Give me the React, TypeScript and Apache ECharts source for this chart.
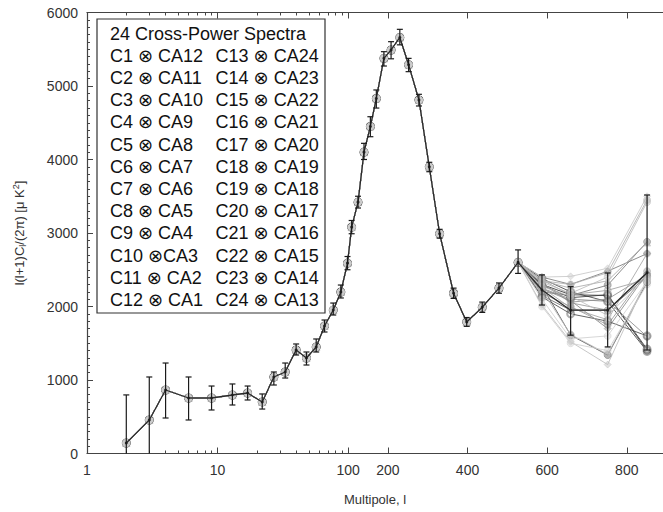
import React, { useEffect, useRef } from "react";
import * as echarts from "echarts";

// Multipole bins (l) and the combined spectrum with its error bars
const multipoles = [2, 3, 4, 6, 9, 13, 17, 22, 27, 33, 40, 48, 57, 66, 77, 88, 99, 109, 125, 140, 156, 171, 190, 208, 230, 252, 278, 304, 330, 365, 398, 437, 479, 527, 587, 659, 752, 851];
const mainSpectrum = [143, 456, 864, 755, 755, 796, 823, 701, 1041, 1109, 1408, 1299, 1449, 1735, 1952, 2197, 2590, 3080, 3420, 4100, 4450, 4830, 5376, 5490, 5660, 5290, 4810, 3900, 2990, 2180, 1790, 1990, 2250, 2600, 2225, 1950, 1950, 2460];
const errLow = [0, 0, 483, 456, 592, 660, 728, 605, 932, 1027, 1340, 1204, 1381, 1653, 1884, 2116, 2500, 2990, 3340, 4000, 4310, 4700, 5272, 5370, 5560, 5195, 4728, 3834, 2930, 2110, 1730, 1920, 2180, 2450, 2020, 1610, 1450, 1408];
const errHigh = [797, 1041, 1231, 1041, 918, 946, 918, 810, 1109, 1231, 1490, 1381, 1558, 1816, 2047, 2292, 2680, 3170, 3500, 4220, 4582, 4946, 5467, 5603, 5771, 5376, 4887, 3962, 3050, 2250, 1850, 2060, 2320, 2770, 2430, 2270, 2456, 3517];

// Individual cross-power spectra differ only in the last four bins (l = 587, 659, 752, 851)
// (listed from darkest to lightest drawing tone)
const tailStart = 34;
const crossTails = [
  [2300, 2160, 2150, 1400],
  [2280, 1610, 1340, 2330],
  [2380, 2200, 2066, 1390],
  [2290, 2120, 2160, 1420],
  [2130, 1900, 1800, 1600],
  [2150, 1950, 1950, 2410],
  [2200, 2150, 2290, 2880],
  [2400, 2300, 2480, 2720],
  [2240, 2080, 1700, 2450],
  [2250, 2100, 2070, 1590],
  [2310, 2060, 2100, 2430],
  [2180, 2000, 1750, 2480],
  [2320, 2050, 1950, 2470],
  [2360, 2160, 2220, 2370],
  [2260, 1980, 1820, 2720],
  [2350, 2250, 2350, 2870],
  [2350, 2300, 2460, 3450],
  [2220, 1620, 1350, 2350],
  [2330, 2180, 2400, 3420],
  [2020, 1520, 1210, 2380],
  [2270, 2140, 1880, 2400],
  [2400, 2410, 2520, 3500],
  [2000, 1500, 1400, 2300],
  [2100, 1560, 1600, 2340],
];
const seriesColors = ['#333333', '#555555', '#444444', '#3a3a3a', '#4a4a4a', '#6a6a6a', '#777777', '#7a7a7a', '#888888', '#8a8a8a', '#8f8f8f', '#999999', '#9a9a9a', '#a0a0a0', '#a5a5a5', '#aaaaaa', '#b0b0b0', '#b5b5b5', '#bcbcbc', '#bdbdbd', '#c0c0c0', '#c8c8c8', '#cfcfcf', '#d0d0d0'];
const seriesSymbols = ['circle', 'circle', 'emptyCircle', 'emptyCircle', 'emptyCircle', 'circle', 'circle', 'diamond', 'diamond', 'circle', 'circle', 'circle', 'triangle', 'circle', 'circle', 'triangle', 'circle', 'circle', 'circle', 'diamond', 'circle', 'diamond', 'circle', 'circle'];

const xTickValues = [1, 10, 100, 200, 400, 600, 800];
const xMinorTickValues = [2, 3, 4, 5, 6, 7, 8, 9, 20, 30, 40, 50, 60, 70, 80, 90];
const xMaxL = 891;

const legendTitle = "24 Cross-Power Spectra";
const legendCol1 = ["C1 ⊗ CA12", "C2 ⊗ CA11", "C3 ⊗ CA10", "C4 ⊗ CA9", "C5 ⊗ CA8", "C6 ⊗ CA7", "C7 ⊗ CA6", "C8 ⊗ CA5", "C9 ⊗ CA4", "C10 ⊗CA3", "C11 ⊗ CA2", "C12 ⊗ CA1"];
const legendCol2 = ["C13 ⊗ CA24", "C14 ⊗ CA23", "C15 ⊗ CA22", "C16 ⊗ CA21", "C17 ⊗ CA20", "C18 ⊗ CA19", "C19 ⊗ CA18", "C20 ⊗ CA17", "C21 ⊗ CA16", "C22 ⊗ CA15", "C23 ⊗ CA14", "C24 ⊗ CA13"];

// Axis is logarithmic below l = 100 and linear above it
const LIN_K = 0.00305;
function toAxis(l: number): number {
  return l <= 100 ? Math.log10(l) : 2 + (l - 100) * LIN_K;
}

const FONT = "'Liberation Sans', 'DejaVu Sans', Arial, sans-serif";

export default function App() {
  const ref = useRef<HTMLDivElement>(null);

  useEffect(() => {
    document.body.style.margin = "0";
    if (!ref.current) return;
    const chart = echarts.init(ref.current, undefined, { renderer: "svg" });

    const majorT = xTickValues.map(toAxis);
    const minorT = xMinorTickValues.map(toAxis);
    const tMax = toAxis(xMaxL);

    const axisColor = "#444";
    const xBase = {
      type: "value",
      min: 0,
      max: tMax,
      splitLine: { show: false },
    };

    const xAxes: any[] = [
      {
        ...xBase,
        position: "bottom",
        axisLine: { show: true, lineStyle: { color: axisColor, width: 1.2 } },
        axisTick: { show: true, inside: true, length: 6, customValues: majorT, lineStyle: { color: axisColor } },
        axisLabel: {
          show: true,
          customValues: majorT,
          color: "#333",
          fontSize: 14,
          fontFamily: FONT,
          margin: 9,
          formatter: (v: number) => {
            const i = majorT.findIndex((m) => Math.abs(m - v) < 1e-6);
            return i >= 0 ? String(xTickValues[i]) : "";
          },
        },
        name: "Multipole, l",
        nameLocation: "middle",
        nameGap: 39,
        nameTextStyle: { color: "#333", fontSize: 13, fontFamily: FONT },
      },
      {
        ...xBase,
        position: "bottom",
        axisLine: { show: false },
        axisTick: { show: true, inside: true, length: 3, customValues: minorT, lineStyle: { color: axisColor } },
        axisLabel: { show: false, customValues: minorT },
      },
      {
        ...xBase,
        position: "top",
        axisLine: { show: true, lineStyle: { color: axisColor, width: 1.2 } },
        axisTick: { show: true, inside: true, length: 6, customValues: majorT, lineStyle: { color: axisColor } },
        axisLabel: { show: false, customValues: majorT },
      },
      {
        ...xBase,
        position: "top",
        axisLine: { show: false },
        axisTick: { show: true, inside: true, length: 3, customValues: minorT, lineStyle: { color: axisColor } },
        axisLabel: { show: false, customValues: minorT },
      },
    ];

    const graySeries = crossTails.map((tail, i) => ({
      type: "line",
      name: "cross " + (i + 1),
      xAxisIndex: 0,
      yAxisIndex: 0,
      data: multipoles.map((l, j) => [toAxis(l), j < tailStart ? mainSpectrum[j] : tail[j - tailStart]]),
      symbol: seriesSymbols[i],
      symbolSize: 7,
      showSymbol: true,
      lineStyle: { color: seriesColors[i], width: 1, opacity: 0.85 },
      itemStyle: { color: seriesColors[i], borderColor: seriesColors[i], opacity: 0.45 },
      z: 2,
    }));

    const errorData = multipoles.map((l, j) => [toAxis(l), errLow[j], errHigh[j]]);

    const option: any = {
      animation: false,
      backgroundColor: "#fff",
      grid: { left: 87, right: 0, top: 12.5, bottom: 58.5, containLabel: false },
      xAxis: xAxes,
      yAxis: {
        type: "value",
        min: 0,
        max: 6000,
        interval: 1000,
        splitLine: { show: false },
        axisLine: { show: true, lineStyle: { color: axisColor, width: 1.2 } },
        axisTick: { show: true, inside: true, length: 6, lineStyle: { color: axisColor } },
        minorTick: { show: true, splitNumber: 10, length: 3, lineStyle: { color: axisColor } },
        axisLabel: { color: "#333", fontSize: 14, fontFamily: FONT, margin: 9, formatter: (v: number) => String(v) },
        name: "l(l+1)C{sub|l}/(2π) [μ K{sup|2}]",
        nameLocation: "middle",
        nameGap: 60,
        nameTextStyle: {
          color: "#333",
          fontSize: 13,
          fontFamily: FONT,
          rich: {
            sub: { fontSize: 9, fontFamily: FONT, color: "#333", padding: [7, 0, 0, 0] },
            sup: { fontSize: 9, fontFamily: FONT, color: "#333", padding: [0, 0, 7, 0] },
          },
        },
      },
      series: [
        ...graySeries,
        {
          type: "line",
          name: "combined",
          xAxisIndex: 0,
          yAxisIndex: 0,
          data: multipoles.map((l, j) => [toAxis(l), mainSpectrum[j]]),
          symbol: "circle",
          symbolSize: 3,
          lineStyle: { color: "#2a2a2a", width: 1.3 },
          itemStyle: { color: "#2a2a2a" },
          z: 5,
        },
        {
          type: "custom",
          name: "errors",
          xAxisIndex: 0,
          yAxisIndex: 0,
          data: errorData,
          encode: { x: 0, y: [1, 2] },
          z: 6,
          renderItem: (params: any, api: any) => {
            const x = api.value(0);
            const lo = api.value(1);
            const hi = api.value(2);
            const pLo = api.coord([x, lo]);
            const pHi = api.coord([x, hi]);
            const w = 3;
            const st = { stroke: "#1a1a1a", lineWidth: 1.2 };
            const children: any[] = [
              { type: "line", shape: { x1: pLo[0], y1: pLo[1], x2: pHi[0], y2: pHi[1] }, style: st },
              { type: "line", shape: { x1: pHi[0] - w, y1: pHi[1], x2: pHi[0] + w, y2: pHi[1] }, style: st },
            ];
            if (lo > 0) {
              children.push({ type: "line", shape: { x1: pLo[0] - w, y1: pLo[1], x2: pLo[0] + w, y2: pLo[1] }, style: st });
            }
            return { type: "group", children };
          },
        },
      ],
      graphic: [
        {
          type: "rect",
          x: 97,
          y: 19,
          shape: { width: 228, height: 294 },
          style: { fill: "#fff", stroke: "#333", lineWidth: 1.2 },
          z: 10,
        },
        {
          type: "text",
          x: 110,
          y: 33.5,
          style: { text: legendTitle, fontSize: 18, fontFamily: FONT, fill: "#111", verticalAlign: "middle" },
          z: 11,
        },
        ...legendCol1.map((t, i) => ({
          type: "text",
          x: 110,
          y: 55.7 + i * 22.2,
          style: { text: t, fontSize: 18, fontFamily: FONT, fill: "#111", verticalAlign: "middle" },
          z: 11,
        })),
        ...legendCol2.map((t, i) => ({
          type: "text",
          x: 215.6,
          y: 55.7 + i * 22.2,
          style: { text: t, fontSize: 18, fontFamily: FONT, fill: "#111", verticalAlign: "middle" },
          z: 11,
        })),
      ],
    };

    chart.setOption(option);
    return () => chart.dispose();
  }, []);

  return <div ref={ref} style={{ width: 663, height: 512 }} />;
}
